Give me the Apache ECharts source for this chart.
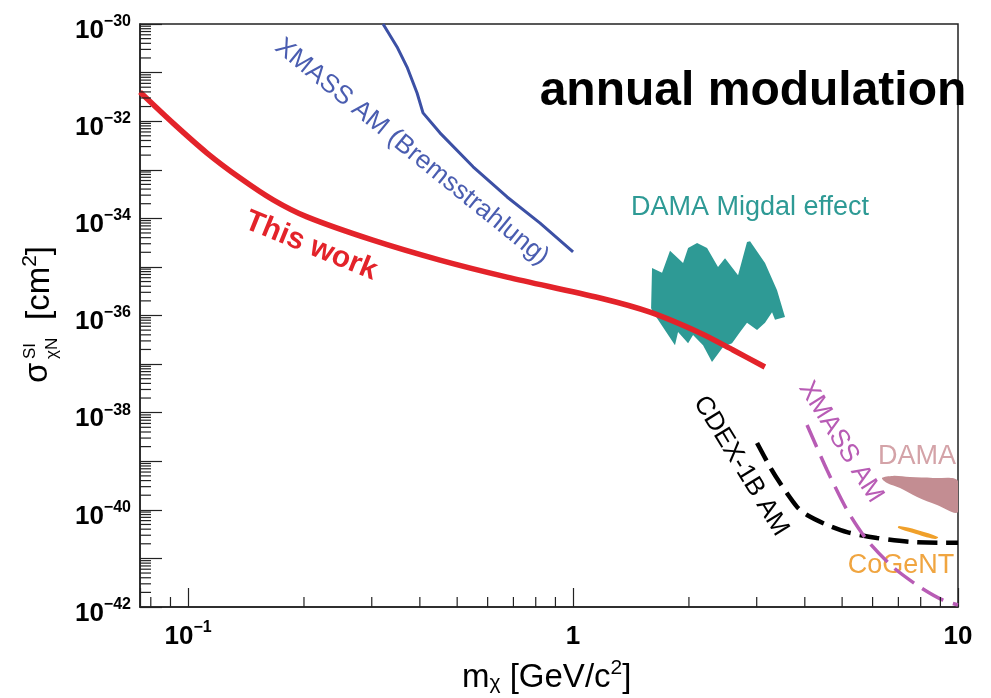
<!DOCTYPE html>
<html><head><meta charset="utf-8">
<script src="https://cdn.jsdelivr.net/npm/echarts@6/dist/echarts.min.js"></script>
<style>html,body{margin:0;padding:0;background:#fff}#c{width:991px;height:698px}</style>
</head><body><div id="c"></div>
<script>
const FONT = '"Liberation Sans", Arial, Helvetica, sans-serif';
const xMin = 0.075, xMax = 10;
const yMinExp = -42, yMaxExp = -30;   // y axis shows log10(sigma)
const xLabelValues = [0.1, 1, 10];
const xLabelBase = ['10', '1', '10'];
const xLabelSup = ['−1', '', ''];
const yLabelExponents = [-42, -40, -38, -36, -34, -32, -30];
const minorMantissas = [2, 3, 4, 5, 6, 7, 8, 9];
const xMinorDecades = [0.01, 0.1, 1];
const yMinorDecades = [-42, -41, -40, -39, -38, -37, -36, -35, -34, -33, -32, -31];

// This work (red)
const thisWorkMass  = [0.075, 0.0914, 0.112, 0.1365, 0.1663, 0.2037, 0.302, 0.451, 0.674, 1.175, 1.585, 2.138, 2.604, 3.15];
const thisWorkSigma = [3.98e-32, 9.12e-33, 2.21e-33, 6.76e-34, 2.40e-34, 1.07e-34, 3.55e-35, 1.38e-35, 6.17e-36, 2.29e-36, 1.17e-36, 4.37e-37, 1.95e-37, 8.71e-38];
// XMASS AM (Bremsstrahlung) (blue)
const xmassBremMass  = [0.321, 0.349, 0.3705, 0.3934, 0.4076, 0.451, 0.55, 0.674, 0.821, 1.0];
const xmassBremSigma = [1.0e-30, 3.37e-31, 1.30e-31, 3.80e-32, 1.48e-32, 5.75e-33, 1.15e-33, 2.75e-34, 7.94e-35, 2.04e-35];
// CDEX-1B AM (black dashed)
const cdexMass  = [3.006, 3.249, 3.449, 3.818, 4.054, 4.568, 5.149, 6.161, 7.504, 9.142, 10];
const cdexSigma = [2.37e-39, 7.59e-40, 3.55e-40, 1.15e-40, 7.82e-41, 4.90e-41, 3.47e-41, 2.63e-41, 2.19e-41, 2.09e-41, 2.09e-41];
// XMASS AM (magenta dashed)
const xmassAMMass  = [4.054, 4.568, 5.149, 5.801, 6.78, 7.966, 9.142, 10];
const xmassAMSigma = [5.57e-39, 6.61e-40, 9.9e-41, 2.40e-41, 6.61e-42, 2.57e-42, 1.38e-42, 1.10e-42];
// DAMA Migdal effect region (teal)
const migdalMass  = [1.604, 1.703, 1.786, 1.931, 1.990, 2.100, 2.229, 2.380, 2.482, 2.683, 2.831, 2.883, 3.153, 3.388, 3.553, 3.347, 3.288, 3.153, 3.006, 2.831, 2.716, 2.588, 2.453, 2.296, 2.176, 2.050, 1.990, 1.874, 1.840, 1.713, 1.614, 1.595];
const migdalSigma = [9.55e-36, 7.59e-36, 2.14e-35, 1.20e-35, 2.45e-35, 3.09e-35, 2.45e-35, 1.00e-35, 1.51e-35, 6.76e-36, 3.24e-35, 3.39e-35, 1.20e-35, 3.31e-36, 9.33e-37, 8.13e-37, 1.17e-36, 7.08e-37, 5.01e-37, 7.08e-37, 4.57e-37, 2.69e-37, 2.24e-37, 1.10e-37, 2.45e-37, 3.98e-37, 2.69e-37, 4.57e-37, 2.45e-37, 5.75e-37, 1.17e-36, 1.41e-36];
// DAMA region (rose)
const damaMass  = [6.348, 6.78, 7.504, 8.61, 10, 10, 8.82, 7.83, 7.07, 6.54];
const damaSigma = [4.52e-40, 5.0e-40, 4.73e-40, 4.52e-40, 3.92e-40, 9.0e-41, 1.26e-40, 1.84e-40, 2.81e-40, 3.56e-40];
// CoGeNT region (orange)
const cogentMass  = [6.99, 7.03, 7.83, 8.87, 8.71, 7.64];
const cogentSigma = [4.22e-41, 4.64e-41, 3.84e-41, 2.75e-41, 2.51e-41, 3.33e-41];

const C = {
  red: '#e3232a', blue: '#3c50a5', blueText: '#4a5db0', teal: '#2e9a95', black: '#000000',
  magenta: '#b85cb5', dama: '#c38d92', damaText: '#d4a3a8', cogent: '#f0a02a', cogentText: '#f0a540', axis: '#222222'
};

const zip = (a, b) => a.map((v, i) => [v, Math.log10(b[i])]);
const xMinorTicks = [];
xMinorDecades.forEach(d => minorMantissas.forEach(m => { const v = +(m * d).toPrecision(3); if (v > xMin && v < xMax) xMinorTicks.push([v, yMinExp]); }));
const yMinorTicks = [];
yMinorDecades.forEach(e => minorMantissas.forEach(m => yMinorTicks.push([xMin, e + Math.log10(m)])));

function polygonSeries(name, data, fill, smooth) {
  return {
    type: 'custom', name, data, clip: true, z: 2,
    renderItem(params, api) {
      if (params.dataIndex !== 0) return null;
      const pts = data.map(p => api.coord(p));
      return { type: 'polygon', shape: { points: pts, smooth: smooth || 0 }, style: { fill } };
    }
  };
}

const chart = echarts.init(document.getElementById('c'), null, { renderer: 'canvas' });
const option = {
  animation: false,
  backgroundColor: '#ffffff',
  grid: { left: 140, right: 33, top: 24, bottom: 91, show: true, borderColor: C.axis, borderWidth: 1.5, backgroundColor: 'transparent' },
  xAxis: {
    type: 'log', logBase: 10, min: xMin, max: xMax,
    axisLine: { show: true, lineStyle: { color: C.axis, width: 1.5 } },
    axisTick: { show: true, inside: true, length: 19, lineStyle: { color: C.axis, width: 1.2 } },
    splitLine: { show: false },
    axisLabel: {
      margin: 13,
      formatter: v => {
        const i = xLabelValues.findIndex(t => Math.abs(Math.log10(v) - Math.log10(t)) < 1e-6);
        if (i < 0) return '';
        return xLabelSup[i] ? '{b|' + xLabelBase[i] + '}{s|' + xLabelSup[i] + '}' : '{b|' + xLabelBase[i] + '}';
      },
      rich: {
        b: { fontFamily: FONT, fontSize: 26, fontWeight: 'bold', color: '#000', lineHeight: 30, verticalAlign: 'bottom' },
        s: { fontFamily: FONT, fontSize: 16, fontWeight: 'bold', color: '#000', lineHeight: 14, verticalAlign: 'top' }
      }
    }
  },
  yAxis: {
    type: 'value', min: yMinExp, max: yMaxExp, interval: 1,
    axisLine: { show: true, lineStyle: { color: C.axis, width: 1.5 } },
    axisTick: { show: true, inside: true, length: 22, lineStyle: { color: C.axis, width: 1.2 } },
    splitLine: { show: false },
    axisLabel: {
      margin: 9, padding: [9, 0, 0, 0],
      formatter: v => {
        const e = Math.round(v);
        if (!yLabelExponents.includes(e)) return '';
        return '{b|10}{s|−' + Math.abs(e) + '}';
      },
      rich: {
        b: { fontFamily: FONT, fontSize: 26, fontWeight: 'bold', color: '#000', lineHeight: 30, verticalAlign: 'bottom' },
        s: { fontFamily: FONT, fontSize: 16, fontWeight: 'bold', color: '#000', lineHeight: 12, verticalAlign: 'top' }
      }
    }
  },
  series: [
    polygonSeries('DAMA Migdal effect', zip(migdalMass, migdalSigma), C.teal, 0),
    polygonSeries('DAMA', zip(damaMass, damaSigma), C.dama, 0.35),
    polygonSeries('CoGeNT', zip(cogentMass, cogentSigma), C.cogent, 0.4),
    { type: 'line', name: 'XMASS AM (Bremsstrahlung)', data: zip(xmassBremMass, xmassBremSigma), showSymbol: false, smooth: false, z: 3,
      lineStyle: { color: C.blue, width: 3 } },
    { type: 'line', name: 'CDEX-1B AM', data: zip(cdexMass, cdexSigma), showSymbol: false, smooth: 0.25, z: 3,
      lineStyle: { color: C.black, width: 4.5, type: [20, 9] } },
    { type: 'line', name: 'XMASS AM', data: zip(xmassAMMass, xmassAMSigma), showSymbol: false, smooth: 0.25, z: 4,
      lineStyle: { color: C.magenta, width: 3.5, type: [24, 10] } },
    { type: 'line', name: 'This work', data: zip(thisWorkMass, thisWorkSigma), showSymbol: false, smooth: 0.3, z: 5,
      lineStyle: { color: C.red, width: 5.5 } },
    { type: 'custom', name: 'yMinor', data: yMinorTicks, clip: false, z: 6, silent: true,
      renderItem(params, api) {
        const p = api.coord([api.value(0), api.value(1)]);
        return { type: 'line', shape: { x1: p[0], y1: p[1], x2: p[0] + 11, y2: p[1] }, style: { stroke: C.axis, lineWidth: 1.2 } };
      } },
    { type: 'custom', name: 'xMinor', data: xMinorTicks, clip: false, z: 6, silent: true,
      renderItem(params, api) {
        const p = api.coord([api.value(0), api.value(1)]);
        return { type: 'line', shape: { x1: p[0], y1: p[1], x2: p[0], y2: p[1] - 10 }, style: { stroke: C.axis, lineWidth: 1.2 } };
      } }
  ],
  graphic: [
    { type: 'text', x: 753, y: 92, style: { text: 'annual modulation', fontFamily: FONT, fontSize: 48, fontWeight: 'bold', fill: '#000', align: 'center', verticalAlign: 'middle' } },
    { type: 'text', x: 412, y: 152, rotation: -39 * Math.PI / 180, style: { text: 'XMASS AM (Bremsstrahlung)', fontFamily: FONT, fontSize: 26, fill: C.blueText, align: 'center', verticalAlign: 'middle' } },
    { type: 'text', x: 311, y: 246, rotation: -22 * Math.PI / 180, style: { text: 'This work', fontFamily: FONT, fontSize: 30, fontWeight: 'bold', fill: C.red, align: 'center', verticalAlign: 'middle' } },
    { type: 'text', x: 750, y: 208, style: { text: 'DAMA Migdal effect', fontFamily: FONT, fontSize: 27, fill: C.teal, align: 'center', verticalAlign: 'middle' } },
    { type: 'text', x: 741, y: 466, rotation: -58.5 * Math.PI / 180, style: { text: 'CDEX-1B AM', fontFamily: FONT, fontSize: 26, fill: '#000', align: 'center', verticalAlign: 'middle' } },
    { type: 'text', x: 841, y: 442, rotation: -58 * Math.PI / 180, style: { text: 'XMASS AM', fontFamily: FONT, fontSize: 26, fill: C.magenta, align: 'center', verticalAlign: 'middle' } },
    { type: 'text', x: 917, y: 457, style: { text: 'DAMA', fontFamily: FONT, fontSize: 27, fill: C.damaText, align: 'center', verticalAlign: 'middle' } },
    { type: 'text', x: 901, y: 566, style: { text: 'CoGeNT', fontFamily: FONT, fontSize: 27, fill: C.cogentText, align: 'center', verticalAlign: 'middle' } },
    { type: 'text', x: 462, y: 676, style: {
        text: '{b|m}{sub|χ}{b| [GeV/c}{sup|2}{b|]}', align: 'left', verticalAlign: 'middle',
        rich: {
          b: { fontFamily: FONT, fontSize: 33, fill: '#000', color: '#000', lineHeight: 36, verticalAlign: 'bottom' },
          sub: { fontFamily: FONT, fontSize: 21, fill: '#000', color: '#000', lineHeight: 14, verticalAlign: 'bottom' },
          sup: { fontFamily: FONT, fontSize: 21, fill: '#000', color: '#000', lineHeight: 14, verticalAlign: 'top' }
        } } },
    { type: 'group', x: 38, y: 383, rotation: Math.PI / 2, children: [
        { type: 'text', x: 0, y: 0, style: { text: 'σ', fontFamily: FONT, fontSize: 33, fill: '#000', align: 'left', verticalAlign: 'middle' } },
        { type: 'text', x: 24, y: -8, style: { text: 'SI', fontFamily: FONT, fontSize: 17, fill: '#000', align: 'left', verticalAlign: 'middle' } },
        { type: 'text', x: 24, y: 14, style: { text: 'χN', fontFamily: FONT, fontSize: 17, fill: '#000', align: 'left', verticalAlign: 'middle' } },
        { type: 'text', x: 63, y: 0, style: {
            text: '{b|[cm}{sup|2}{b|]}', align: 'left', verticalAlign: 'middle',
            rich: {
              b: { fontFamily: FONT, fontSize: 33, fill: '#000', color: '#000', lineHeight: 36, verticalAlign: 'bottom' },
              sup: { fontFamily: FONT, fontSize: 21, fill: '#000', color: '#000', lineHeight: 14, verticalAlign: 'top' }
            } } }
      ] }
  ]
};
chart.setOption(option);
</script></body></html>
